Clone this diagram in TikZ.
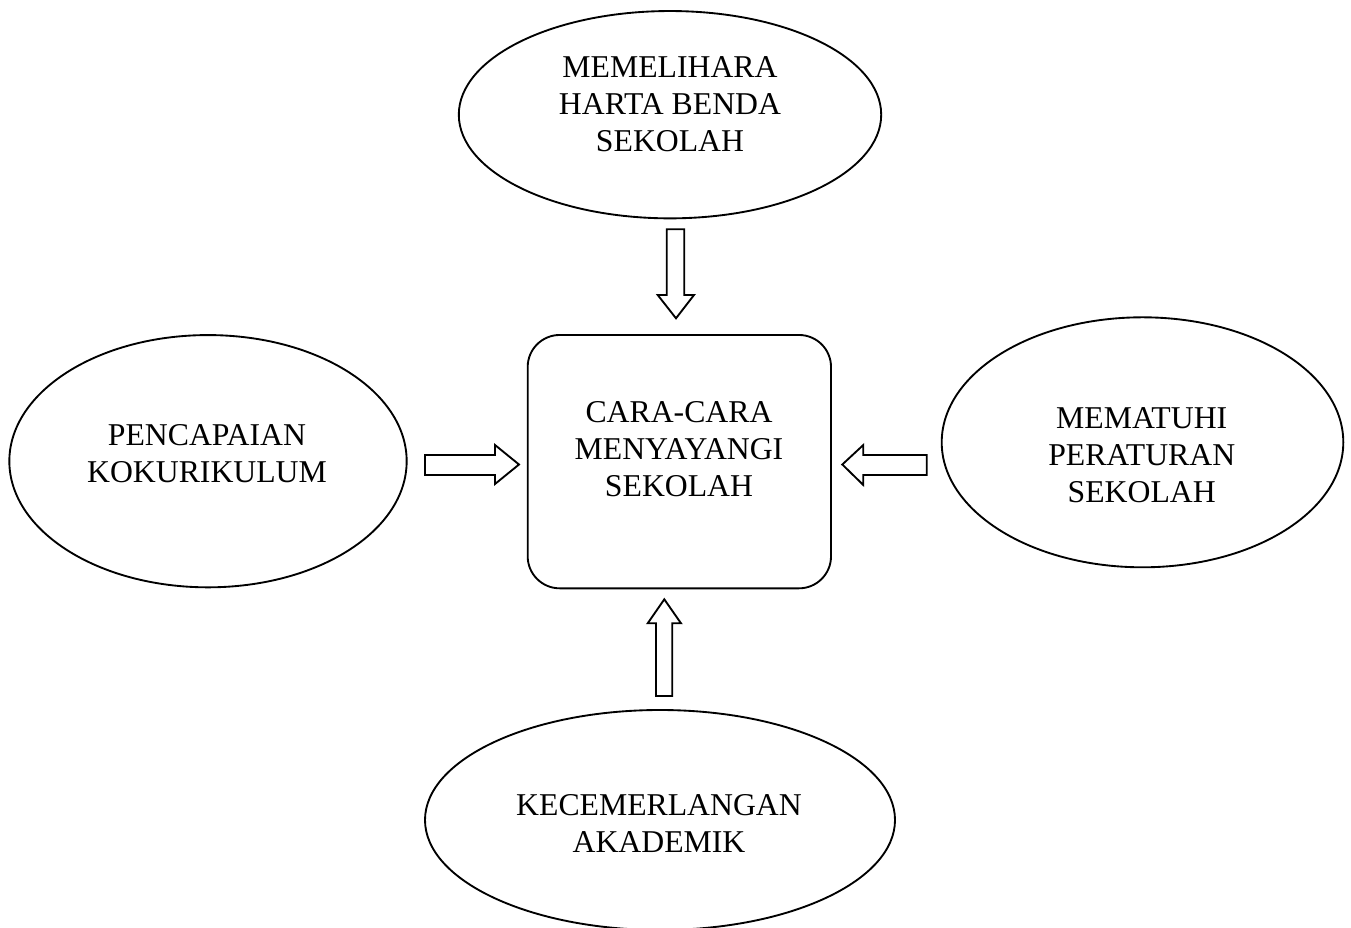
\documentclass[tikz,border=0pt]{standalone}
\usepackage{fontspec}
\setmainfont{Liberation Serif}
\usetikzlibrary{shapes.geometric}
\tikzset{
  oval/.style={draw=black, line width=1.4pt, ellipse, inner sep=0pt},
  hub/.style={draw=black, line width=1.4pt, rectangle, rounded corners=24pt, inner sep=0pt, minimum width=227.5pt, minimum height=190pt},
  lbl/.style={inner sep=0pt, align=center, font=\fontsize{23.8pt}{27.75pt}\selectfont},
  blockarrow/.style={draw=black, line width=1.4pt, line join=miter, fill=white}
}
\begin{document}
\begin{tikzpicture}[x=0.75pt,y=-0.75pt]
\useasboundingbox (0,0) rectangle (1351,927);
\clip (0,0) rectangle (1351,927);
% shapes
\node[oval, minimum width=316.8pt, minimum height=155.5pt] (top) at (670,114.7) {};
\node[oval, minimum width=298pt, minimum height=189.2pt] (left) at (208,461.2) {};
\node[oval, minimum width=301.2pt, minimum height=187.5pt] (right) at (1142.5,442.3) {};
\node[oval, minimum width=352.5pt, minimum height=165pt] (bottom) at (660,820) {};
\node[hub] (hub) at (679.35,461.65) {};
% texts
\node[lbl] (toptext) at (670,104.6) {MEMELIHARA\\HARTA BENDA\\SEKOLAH};
\node[lbl] (lefttext) at (207,454) {PENCAPAIAN\\KOKURIKULUM};
\node[lbl] (righttext) at (1141.7,455) {MEMATUHI\\PERATURAN\\SEKOLAH};
\node[lbl] (bottomtext) at (659,824) {KECEMERLANGAN\\AKADEMIK};
\node[lbl] (hubtext) at (679,448.75) {CARA-CARA\\MENYAYANGI\\SEKOLAH};
% block arrows
\draw[blockarrow] (666.7,229.3) -- (684.3,229.3) -- (684.3,295) -- (694,295) -- (676,318.3) -- (657.7,295) -- (666.7,295) -- cycle;
\draw[blockarrow] (425,455) -- (495,455) -- (495,445) -- (519,464.5) -- (495,484) -- (495,475) -- (425,475) -- cycle;
\draw[blockarrow] (926.7,455) -- (863.3,455) -- (863.3,445) -- (842.3,464.5) -- (863.3,485) -- (863.3,475) -- (926.7,475) -- cycle;
\draw[blockarrow] (656,696) -- (656,623.3) -- (647.7,623.3) -- (664.3,599.3) -- (681,623.3) -- (672.3,623.3) -- (672.3,696) -- cycle;
\end{tikzpicture}
\end{document}
